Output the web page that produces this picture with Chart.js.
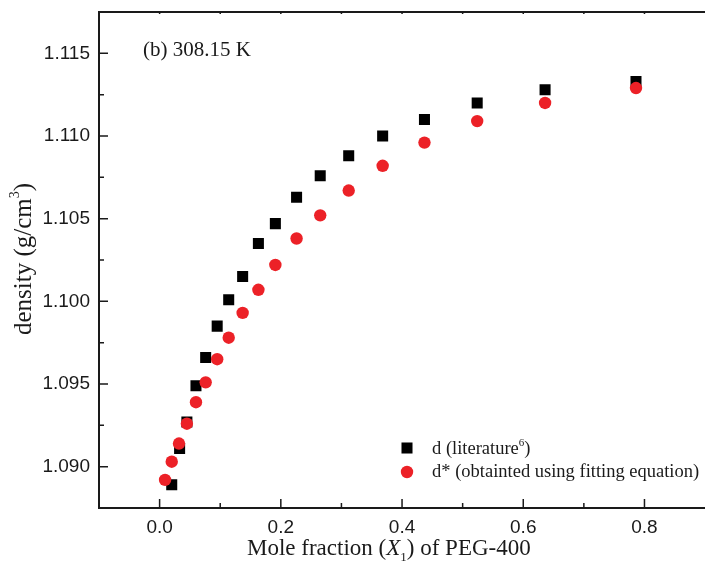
<!DOCTYPE html>
<html>
<head>
<meta charset="utf-8">
<script src="https://cdn.jsdelivr.net/npm/chart.js@4/dist/chart.umd.min.js"></script>
<style>
    html, body { margin: 0; padding: 0; background: #fff; }
</style>
</head>
<body>
<canvas id="density-chart" width="705" height="565"></canvas>
<script>
// data
const moleFractionLit = [0.020, 0.033, 0.045, 0.060, 0.076, 0.095, 0.114, 0.137, 0.163, 0.191, 0.226, 0.265, 0.312, 0.368, 0.437, 0.524, 0.636, 0.786];
const densityLit = [1.0889, 1.0911, 1.0927, 1.0949, 1.0966, 1.0985, 1.1001, 1.1015, 1.1035, 1.1047, 1.1063, 1.1076, 1.1088, 1.1100, 1.1110, 1.1120, 1.1128, 1.1133];
const moleFractionFit = [0.009, 0.020, 0.032, 0.045, 0.060, 0.076, 0.095, 0.114, 0.137, 0.163, 0.191, 0.226, 0.265, 0.312, 0.368, 0.437, 0.524, 0.636, 0.786];
const densityFit = [1.0892, 1.0903, 1.0914, 1.0926, 1.0939, 1.0951, 1.0965, 1.0978, 1.0993, 1.1007, 1.1022, 1.1038, 1.1052, 1.1067, 1.1082, 1.1096, 1.1109, 1.1120, 1.1129];

const xTickLabels = [0, 0.2, 0.4, 0.6, 0.8];
const xMinorTicks = [-0.1, 0.1, 0.3, 0.5, 0.7];
const yTickLabels = [1.090, 1.095, 1.100, 1.105, 1.110, 1.115];
const yMinorTicks = [1.0925, 1.0975, 1.1025, 1.1075, 1.1125];

const SERIF = '"Liberation Serif", "Times New Roman", serif';
const SANS = '"Liberation Sans", Arial, sans-serif';
const INK = '#1a1a1a';

const toPoints = (xs, ys) => xs.map((v, i) => ({ x: v, y: ys[i] }));

// draw text made of several runs (italic, superscript, subscript...)
const drawRuns = (ctx, x, y, runs, align) => {
    let total = 0;
    runs.forEach(r => { ctx.font = r.font; total += ctx.measureText(r.t).width; });
    let cx = align === 'center' ? x - total / 2 : x;
    runs.forEach(r => {
        ctx.font = r.font;
        ctx.fillText(r.t, cx, y + (r.dy || 0));
        cx += ctx.measureText(r.t).width;
    });
};

const frameAndText = {
    id: 'frameAndText',
    afterDraw(chart) {
        const { ctx, chartArea: a, scales: { x, y } } = chart;
        ctx.save();
        ctx.strokeStyle = INK;
        ctx.fillStyle = INK;

        // frame: left, top, bottom (right side is cut off)
        ctx.lineWidth = 2;
        ctx.beginPath();
        ctx.moveTo(chart.width, a.top);
        ctx.lineTo(a.left, a.top);
        ctx.lineTo(a.left, a.bottom);
        ctx.lineTo(chart.width, a.bottom);
        ctx.stroke();

        // inward ticks
        ctx.lineWidth = 1.5;
        ctx.beginPath();
        xTickLabels.forEach(v => { const px = x.getPixelForValue(v); ctx.moveTo(px, a.bottom); ctx.lineTo(px, a.bottom - 9); });
        xMinorTicks.forEach(v => { const px = x.getPixelForValue(v); ctx.moveTo(px, a.bottom); ctx.lineTo(px, a.bottom - 5); });
        yTickLabels.forEach(v => { const py = y.getPixelForValue(v); ctx.moveTo(a.left, py); ctx.lineTo(a.left + 9, py); });
        yMinorTicks.forEach(v => { const py = y.getPixelForValue(v); ctx.moveTo(a.left, py); ctx.lineTo(a.left + 5, py); });
        [...xTickLabels, ...xMinorTicks].forEach(v => { const px = x.getPixelForValue(v); ctx.moveTo(px, a.top); ctx.lineTo(px, a.top + 2); });
        ctx.stroke();

        ctx.textBaseline = 'alphabetic';
        ctx.textAlign = 'left';

        // panel label
        ctx.font = '21px ' + SERIF;
        ctx.fillText('(b) 308.15 K', 143, 56);

        // legend
        const ds = chart.data.datasets;
        const lit = ds[0], fit = ds[1];
        ctx.fillStyle = lit.backgroundColor;
        Chart.helpers.drawPoint(ctx, { pointStyle: lit.pointStyle, radius: lit.pointRadius, rotation: 0, borderWidth: 0 }, 407, 448);
        ctx.fillStyle = fit.backgroundColor;
        Chart.helpers.drawPoint(ctx, { pointStyle: fit.pointStyle, radius: fit.pointRadius, rotation: 0, borderWidth: 0 }, 407, 472);
        ctx.fillStyle = INK;
        drawRuns(ctx, 432, 454, [
            { t: 'd (literature', font: '18.5px ' + SERIF },
            { t: '6', font: '11px ' + SERIF, dy: -8 },
            { t: ')', font: '18.5px ' + SERIF }
        ]);
        drawRuns(ctx, 432, 477, [{ t: 'd* (obtainted using fitting equation)', font: '18.5px ' + SERIF }]);

        // x axis title
        drawRuns(ctx, 247, 555, [
            { t: 'Mole fraction (', font: '23px ' + SERIF },
            { t: 'X', font: 'italic 23px ' + SERIF },
            { t: '1', font: '13px ' + SERIF, dy: 6 },
            { t: ') of PEG-400', font: '23px ' + SERIF }
        ]);

        // y axis title
        ctx.translate(31, 259);
        ctx.rotate(-Math.PI / 2);
        drawRuns(ctx, 0, 0, [
            { t: 'density (g/cm', font: '25px ' + SERIF },
            { t: '3', font: '14px ' + SERIF, dy: -12 },
            { t: ')', font: '25px ' + SERIF }
        ], 'center');
        ctx.restore();
    }
};

const noEdgePadding = s => {
    s.paddingTop = 0;
    s.paddingBottom = 0;
    s.paddingLeft = 0;
    s.paddingRight = 0;
};

const chart = new Chart(document.getElementById('density-chart'), {
    type: 'scatter',
    data: {
        datasets: [
            {
                label: 'd (literature6)',
                data: toPoints(moleFractionLit, densityLit),
                pointStyle: 'rect',
                pointRadius: 7.8,
                pointHoverRadius: 7.8,
                backgroundColor: '#000000',
                borderWidth: 0,
                order: 2
            },
            {
                label: 'd* (obtainted using fitting equation)',
                data: toPoints(moleFractionFit, densityFit),
                pointStyle: 'circle',
                pointRadius: 6.2,
                pointHoverRadius: 6.2,
                backgroundColor: '#ec2127',
                borderWidth: 0,
                order: 1
            }
        ]
    },
    options: {
        responsive: false,
        animation: false,
        devicePixelRatio: 1,
        layout: { padding: { top: 12, right: 0, left: 0, bottom: 0 } },
        plugins: { legend: { display: false }, tooltip: { enabled: false } },
        scales: {
            x: {
                type: 'linear',
                min: -0.1,
                max: 0.887,
                afterBuildTicks: s => { s.ticks = xTickLabels.map(v => ({ value: v })); },
                afterFit: s => { s.height = 57; noEdgePadding(s); },
                grid: { display: false, drawTicks: false },
                border: { display: false },
                ticks: {
                    autoSkip: false,
                    maxRotation: 0,
                    padding: 8,
                    color: INK,
                    font: { family: SANS, size: 19 },
                    callback: v => v.toFixed(1)
                }
            },
            y: {
                type: 'linear',
                min: 1.0875,
                max: 1.1175,
                afterBuildTicks: s => { s.ticks = yTickLabels.map(v => ({ value: v })); },
                afterFit: s => { s.width = 99; noEdgePadding(s); },
                grid: { display: false, drawTicks: false },
                border: { display: false },
                ticks: {
                    autoSkip: false,
                    padding: 9,
                    color: INK,
                    font: { family: SANS, size: 19 },
                    callback: v => v.toFixed(3)
                }
            }
        }
    },
    plugins: [frameAndText]
});
</script>
</body>
</html>
